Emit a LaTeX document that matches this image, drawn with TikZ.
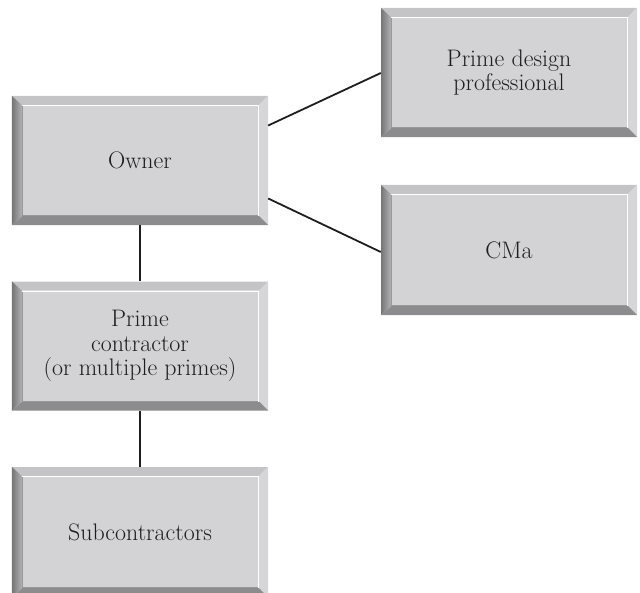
\documentclass[tikz,border=0pt]{standalone}
\usepackage{fontspec}
\usepackage{tikz}
\definecolor{facegray}{RGB}{211,211,213}
\definecolor{toplight}{RGB}{196,196,198}
\definecolor{rightlight}{RGB}{214,214,216}
\definecolor{bottomdark}{RGB}{140,140,142}
\definecolor{leftdark}{RGB}{118,118,120}
\definecolor{leftmid}{RGB}{178,178,180}
\definecolor{inkgray}{RGB}{30,30,30}
\tikzset{
  bevelbox/.style={rectangle, minimum width=256bp, minimum height=129bp, inner sep=0pt,
    align=center, text=inkgray, font=\fontsize{24}{24.5}\selectfont,
    path picture={
      \fill[toplight] (path picture bounding box.north west) -- (path picture bounding box.north east)
        -- ([xshift=-9bp,yshift=-9bp]path picture bounding box.north east)
        -- ([xshift=10bp,yshift=-9bp]path picture bounding box.north west) -- cycle;
      \fill[rightlight] (path picture bounding box.north east) -- (path picture bounding box.south east)
        -- ([xshift=-9bp,yshift=9bp]path picture bounding box.south east)
        -- ([xshift=-9bp,yshift=-9bp]path picture bounding box.north east) -- cycle;
      \fill[bottomdark] (path picture bounding box.south west) -- (path picture bounding box.south east)
        -- ([xshift=-9bp,yshift=9bp]path picture bounding box.south east)
        -- ([xshift=10bp,yshift=9bp]path picture bounding box.south west) -- cycle;
      \shade[left color=leftdark, right color=leftmid] (path picture bounding box.north west)
        -- ([xshift=10bp,yshift=-9bp]path picture bounding box.north west)
        -- ([xshift=10bp,yshift=9bp]path picture bounding box.south west)
        -- (path picture bounding box.south west) -- cycle;
      \fill[facegray] ([xshift=10bp,yshift=9bp]path picture bounding box.south west)
        rectangle ([xshift=-9bp,yshift=-9bp]path picture bounding box.north east);
      \draw[white, line width=1.2bp] ([xshift=10bp,yshift=-9.6bp]path picture bounding box.north west)
        -- ([xshift=-9.6bp,yshift=-9.6bp]path picture bounding box.north east)
        -- ([xshift=-9.6bp,yshift=9bp]path picture bounding box.south east);
      \draw[gray!80, line width=0.8bp] ([xshift=10.4bp,yshift=-10bp]path picture bounding box.north west)
        -- ([xshift=10.4bp,yshift=9.4bp]path picture bounding box.south west)
        -- ([xshift=-10bp,yshift=9.4bp]path picture bounding box.south east);
    }},
  link/.style={draw=inkgray, line width=1.8bp}
}
\begin{document}
\begin{tikzpicture}[x=1bp,y=-1bp]
  \useasboundingbox (0,0) rectangle (640,593);
  \node[bevelbox] (owner) at (140,160.5) {Owner};
  \node[bevelbox] (contractor) at (140,346) {Prime\\contractor\\(or multiple primes)};
  \node[bevelbox, minimum height=130bp] (subs) at (140,532) {Subcontractors};
  \node[bevelbox] (design) at (509,72.5) {Prime design\\professional};
  \node[bevelbox, minimum height=130bp] (cma) at (509,250) {CMa};
  \draw[link] ([yshift=35bp]owner.east) -- ([yshift=-0.5bp]design.west);
  \draw[link] ([yshift=-38bp]owner.east) -- ([yshift=-2bp]cma.west);
  \draw[link] (owner.south) -- (contractor.north);
  \draw[link] (contractor.south) -- (subs.north);
\end{tikzpicture}
\end{document}
